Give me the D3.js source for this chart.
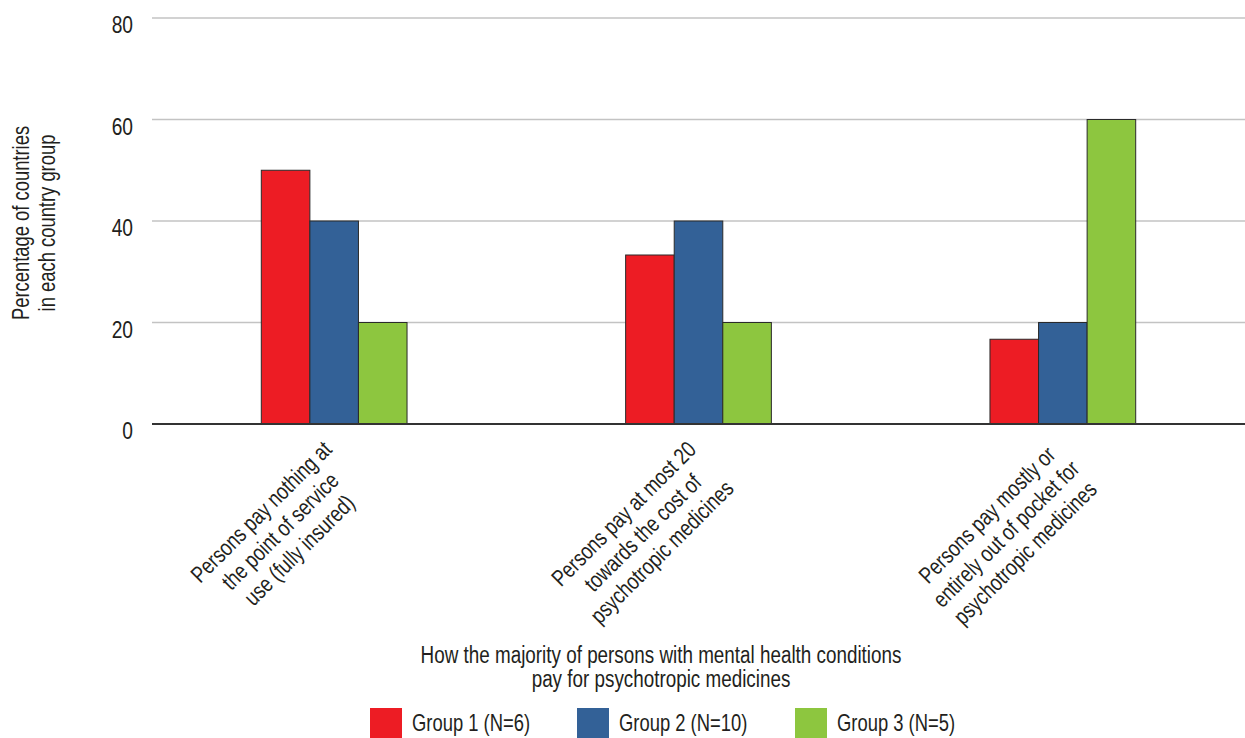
<!DOCTYPE html>
<html>
<head>
<meta charset="utf-8">
<script src="https://cdn.jsdelivr.net/npm/d3@7"></script>
<style>
  html, body { margin: 0; padding: 0; background: #fff; }
  svg { display: block; }
  text { font-family: "Liberation Sans", Arial, sans-serif; fill: #231f20; }
</style>
</head>
<body>
<svg id="chart" width="1245" height="738"></svg>
<script>
// Payment categories (x axis), each split into label lines
const categories = ["nothing", "atMost20", "outOfPocket"];
const categoryLines = [
  ["Persons pay nothing at", "the point of service", "use (fully insured)"],
  ["Persons pay at most 20", "towards the cost of", "psychotropic medicines"],
  ["Persons pay mostly or", "entirely out of pocket for", "psychotropic medicines"]
];

// Country groups (series)
const groups = ["Group 1 (N=6)", "Group 2 (N=10)", "Group 3 (N=5)"];
const groupColors = ["#ed1c24", "#336197", "#8dc63f"];

// Percentage of countries in each group, per category
const group1Values = [50, 33.3, 16.7];
const group2Values = [40, 40, 20];
const group3Values = [20, 20, 60];

const yTicks = [0, 20, 40, 60, 80];
const yTitleLines = ["Percentage of countries", "in each country group"];
const xTitleLines = ["How the majority of persons with mental health conditions", "pay for psychotropic medicines"];

const seriesValues = [group1Values, group2Values, group3Values];
const rows = categories.map((c, i) => ({
  category: c,
  values: groups.map((g, j) => ({ group: g, value: seriesValues[j][i], color: groupColors[j] }))
}));

// Narrow lettering: text is squeezed horizontally along its own baseline
const NARROW = "scale(0.8,1)";

const svg = d3.select("#chart");
const plot = { left: 152, right: 1245, top: 18, bottom: 424 };

const x0 = d3.scaleBand()
  .domain(categories)
  .range([plot.left, plot.right])
  .paddingInner(0.6)
  .paddingOuter(0.3);

const x1 = d3.scaleBand()
  .domain(groups)
  .range([0, x0.bandwidth()]);

const y = d3.scaleLinear()
  .domain([0, 80])
  .range([plot.bottom, plot.top]);

// Horizontal gridlines
svg.append("g")
  .selectAll("line")
  .data(yTicks.filter(t => t > 0))
  .join("line")
  .attr("x1", plot.left)
  .attr("x2", plot.right)
  .attr("y1", d => y(d))
  .attr("y2", d => y(d))
  .attr("stroke", "#c3c3c3")
  .attr("stroke-width", 1.5);

// Y tick labels
svg.append("g")
  .selectAll("g")
  .data(yTicks)
  .join("g")
  .attr("transform", d => `translate(133,${y(d) + 15}) ${NARROW}`)
  .append("text")
  .attr("text-anchor", "end")
  .attr("font-size", 24)
  .text(d => d);

// Bars
const barGroups = svg.append("g")
  .selectAll("g")
  .data(rows)
  .join("g")
  .attr("transform", d => `translate(${x0(d.category)},0)`);

barGroups.selectAll("rect")
  .data(d => d.values)
  .join("rect")
  .attr("x", d => x1(d.group))
  .attr("y", d => y(d.value))
  .attr("width", x1.bandwidth())
  .attr("height", d => y(0) - y(d.value))
  .attr("fill", d => d.color)
  .attr("stroke", "#2a2a2a")
  .attr("stroke-width", 1);

// Baseline
svg.append("line")
  .attr("x1", plot.left)
  .attr("x2", plot.right)
  .attr("y1", y(0))
  .attr("y2", y(0))
  .attr("stroke", "#333")
  .attr("stroke-width", 2);

// Rotated category labels, centred lines, longest line ending near the group
const lineH = 27;
const catLabels = svg.append("g")
  .selectAll("g")
  .data(categories)
  .join("g")
  .attr("transform", d => `translate(${x0(d) + x0.bandwidth() / 2 - 1},${y(0) + 27}) rotate(-45) ${NARROW}`);

catLabels.each(function (d, i) {
  const t = d3.select(this).append("text")
    .attr("font-size", 23)
    .attr("text-anchor", "middle");
  const spans = t.selectAll("tspan")
    .data(categoryLines[i])
    .join("tspan")
    .attr("dy", (l, k) => k === 0 ? 0 : lineH)
    .text(l => l);
  let maxLen = 0;
  spans.each(function () { maxLen = Math.max(maxLen, this.getComputedTextLength()); });
  spans.attr("x", -maxLen / 2);
});

// Y axis title
svg.append("g")
  .attr("transform", `translate(29,223) rotate(-90) ${NARROW}`)
  .append("text")
  .attr("text-anchor", "middle")
  .attr("font-size", 23)
  .selectAll("tspan")
  .data(yTitleLines)
  .join("tspan")
  .attr("x", 0)
  .attr("dy", (d, i) => i === 0 ? 0 : 26)
  .text(d => d);

// X axis title
svg.append("g")
  .attr("transform", `translate(661,663) scale(0.82,1)`)
  .append("text")
  .attr("text-anchor", "middle")
  .attr("font-size", 23)
  .selectAll("tspan")
  .data(xTitleLines)
  .join("tspan")
  .attr("x", 0)
  .attr("y", (d, i) => i * 24)
  .text(d => d);

// Legend
const legendX = [370, 577, 795];
const legend = svg.append("g")
  .selectAll("g")
  .data(groups)
  .join("g")
  .attr("transform", (d, i) => `translate(${legendX[i]},708)`);

legend.append("rect")
  .attr("width", 32)
  .attr("height", 30)
  .attr("fill", (d, i) => groupColors[i]);

legend.append("g")
  .attr("transform", `translate(42,23) ${NARROW}`)
  .append("text")
  .attr("font-size", 23)
  .text(d => d);
</script>
</body>
</html>
